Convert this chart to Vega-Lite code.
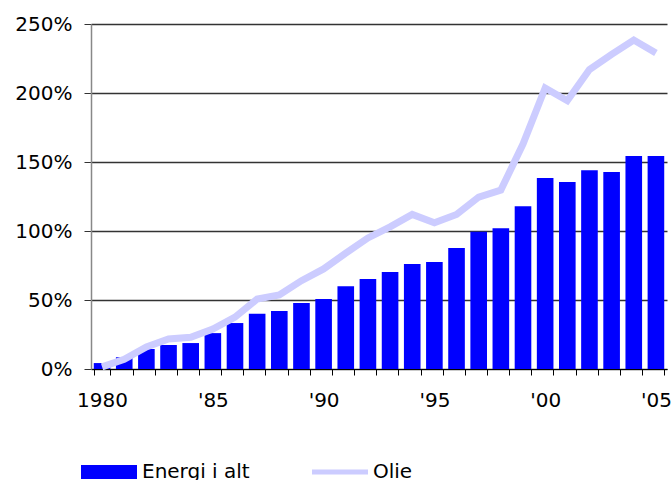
{
  "$schema": "https://vega.github.io/schema/vega-lite/v6.json",
  "width": 576,
  "height": 345,
  "autosize": {"type": "none"},
  "padding": {"left": 91, "top": 24, "right": 4, "bottom": 111},
  "background": "white",
  "config": {
    "view": {"stroke": null},
    "font": "DejaVu Sans",
    "axis": {"labelFont": "DejaVu Sans", "labelFontSize": 20, "labelColor": "#000"}
  },
  "data": {
    "values": [
      {"year": 1980, "energi": 4.3, "olie": 1.5},
      {"year": 1981, "energi": 8.5, "olie": 7},
      {"year": 1982, "energi": 14.5, "olie": 16},
      {"year": 1983, "energi": 17.4, "olie": 21.7},
      {"year": 1984, "energi": 18.8, "olie": 23},
      {"year": 1985, "energi": 26, "olie": 29},
      {"year": 1986, "energi": 33.3, "olie": 37.6},
      {"year": 1987, "energi": 40, "olie": 50.7},
      {"year": 1988, "energi": 42, "olie": 53.6},
      {"year": 1989, "energi": 47.8, "olie": 64},
      {"year": 1990, "energi": 50.7, "olie": 72.5},
      {"year": 1991, "energi": 60, "olie": 84},
      {"year": 1992, "energi": 65.2, "olie": 95},
      {"year": 1993, "energi": 70.3, "olie": 103},
      {"year": 1994, "energi": 76, "olie": 112},
      {"year": 1995, "energi": 77.5, "olie": 106},
      {"year": 1996, "energi": 87.7, "olie": 112},
      {"year": 1997, "energi": 99.5, "olie": 124.6},
      {"year": 1998, "energi": 102, "olie": 129.7},
      {"year": 1999, "energi": 118, "olie": 163},
      {"year": 2000, "energi": 138.4, "olie": 203.6},
      {"year": 2001, "energi": 135.5, "olie": 194.4},
      {"year": 2002, "energi": 144, "olie": 217},
      {"year": 2003, "energi": 142.8, "olie": 228},
      {"year": 2004, "energi": 154.3, "olie": 238.4},
      {"year": 2005, "energi": 154.3, "olie": 229}
    ]
  },
  "encoding": {
    "x": {
      "field": "year",
      "type": "ordinal",
      "scale": {"paddingInner": 0.25, "paddingOuter": 0.125},
      "axis": {
        "title": null,
        "labelAngle": 0,
        "domainColor": "#000",
        "tickColor": "#000",
        "tickSize": 6,
        "tickBand": "extent",
        "labelPadding": 15,
        "labelExpr": "datum.value == 1980 ? '1980' : (datum.value % 5 == 0 ? \"'\" + substring(toString(datum.value), 2) : '')"
      }
    }
  },
  "layer": [
    {
      "mark": {"type": "bar", "color": "#0000ff"},
      "encoding": {
        "y": {
          "field": "energi",
          "type": "quantitative",
          "scale": {"domain": [0, 250], "nice": false},
          "axis": {
            "title": null,
            "values": [0, 50, 100, 150, 200, 250],
            "labelExpr": "datum.value + '%'",
            "grid": true,
            "gridColor": "#333",
            "gridWidth": 1.3,
            "domainColor": "#888",
            "domainWidth": 1.5,
            "tickColor": "#333",
            "tickSize": 7,
            "labelPadding": 12
          }
        },
        "color": {
          "datum": "Energi i alt",
          "type": "nominal",
          "scale": {"domain": ["Energi i alt", "Olie"], "range": ["#0000ff", "#ccccff"]},
          "legend": {
            "title": null,
            "orient": "none",
            "legendX": -10,
            "legendY": 420,
            "direction": "horizontal",
            "columns": 2,
            "columnPadding": 62,
            "labelFontSize": 20,
            "labelFont": "DejaVu Sans",
            "labelColor": "#000",
            "labelOffset": 5,
            "symbolSize": 3136,
            "symbolStrokeWidth": 0,
            "symbolOpacity": 1,
            "symbolType": "M-1,-0.25H1V0.25H-1Z",
            "labelLimit": 300,
            "encode": {
              "symbols": {
                "update": {
                  "shape": {"signal": "datum.value === 'Olie' ? 'M-1,-0.09H1V0.09H-1Z' : 'M-1,-0.25H1V0.25H-1Z'"},
                  "fill": {"signal": "datum.value === 'Olie' ? '#ccccff' : '#0000ff'"},
                  "strokeWidth": {"value": 0},
                  "opacity": {"value": 1}
                }
              }
            }
          }
        }
      }
    },
    {
      "mark": {"type": "line", "color": "#ccccff", "strokeWidth": 7},
      "encoding": {
        "y": {"field": "olie", "type": "quantitative"},
        "color": {"datum": "Olie", "type": "nominal"}
      }
    }
  ]
}
